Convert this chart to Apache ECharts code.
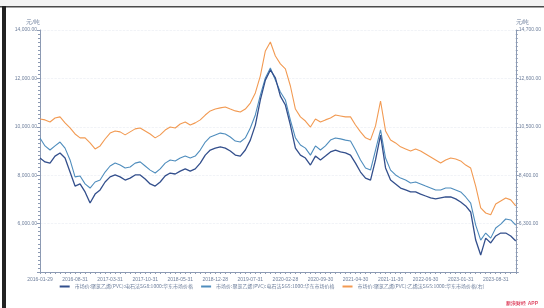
<!DOCTYPE html>
<html lang="zh">
<head>
  <meta charset="UTF-8">
  <title>PVC 价格走势</title>
  <script src="https://cdn.jsdelivr.net/npm/echarts@6/dist/echarts.min.js"></script>
  <style>
    html, body { margin: 0; padding: 0; background: #fff; }
  </style>
</head>
<body>
  <div id="main" style="width: 544px;height:308px;"></div>
</body>
</html>
<script>
  const dates = [
    "2016-01-29", "2016-02-26", "2016-03-31", "2016-04-29", "2016-05-31", "2016-06-30", "2016-07-29", "2016-08-31", "2016-09-30", "2016-10-31", "2016-11-30", "2016-12-30",
    "2017-01-26", "2017-02-28", "2017-03-31", "2017-04-28", "2017-05-31", "2017-06-30", "2017-07-31", "2017-08-31", "2017-09-29", "2017-10-31", "2017-11-30", "2017-12-29",
    "2018-01-31", "2018-02-28", "2018-03-30", "2018-04-27", "2018-05-31", "2018-06-29", "2018-07-31", "2018-08-31", "2018-09-28", "2018-10-31", "2018-11-30", "2018-12-28",
    "2019-01-31", "2019-02-28", "2019-03-29", "2019-04-30", "2019-05-31", "2019-06-28", "2019-07-31", "2019-08-30", "2019-09-30", "2019-10-31", "2019-11-29", "2019-12-31",
    "2020-01-23", "2020-02-28", "2020-03-31", "2020-04-30", "2020-05-29", "2020-06-30", "2020-07-31", "2020-08-31", "2020-09-30", "2020-10-30", "2020-11-30", "2020-12-31",
    "2021-01-29", "2021-02-26", "2021-03-31", "2021-04-30", "2021-05-31", "2021-06-30", "2021-07-30", "2021-08-31", "2021-09-30", "2021-10-29", "2021-11-30", "2021-12-31",
    "2022-01-28", "2022-02-28", "2022-03-31", "2022-04-29", "2022-05-31", "2022-06-30", "2022-07-29", "2022-08-31", "2022-09-30", "2022-10-31", "2022-11-30", "2022-12-30",
    "2023-01-31", "2023-02-28", "2023-03-31", "2023-04-28", "2023-05-31", "2023-06-30", "2023-07-31", "2023-08-31", "2023-09-28", "2023-10-31", "2023-11-30", "2023-12-29"
  ];

  const seriesNames = [
    "市场价:聚氯乙烯(PVC):电石法SG8:1000:华东市场价格",
    "市场价:聚氯乙烯(PVC):电石法SG5:1000:华东市场价格",
    "市场价:聚氯乙烯(PVC):乙烯法SG5:1000:华东市场价格(右)"
  ];

  // 电石法 SG8（左轴）
  const sg8 = [8710, 8550, 8500, 8790, 8920, 8710, 8130, 7550, 7640, 7310,
    6850, 7220, 7390, 7720, 7930, 8010, 7930, 7800, 7880, 8010,
    8010, 7840, 7640, 7550, 7720, 7970, 8090, 8050, 8170, 8260,
    8170, 8260, 8500, 8830, 9040, 9120, 9170, 9120, 9000, 8830,
    8790, 9040, 9450, 10070, 11110, 11930, 12350, 12020, 11270, 10900,
    10070, 9120, 8830, 8710, 8420, 8790, 8630, 8790, 8960, 9040,
    8960, 8920, 8830, 8500, 8130, 7880, 7800, 8630, 9660, 8300,
    7800, 7640, 7470, 7390, 7310, 7310, 7220, 7140, 7060, 7020,
    7060, 7100, 7100, 7020, 6890, 6730, 6480, 5320, 4700, 5400,
    5200, 5490, 5610, 5610, 5490, 5280];

  // 电石法 SG5（左轴）
  const sg5 = [9540, 9210, 9040, 9210, 9370, 9120, 8630, 7930, 7970, 7640,
    7470, 7720, 7800, 8130, 8380, 8500, 8420, 8300, 8340, 8500,
    8550, 8380, 8210, 8090, 8260, 8500, 8630, 8590, 8710, 8790,
    8710, 8790, 9040, 9370, 9580, 9660, 9740, 9700, 9580, 9410,
    9370, 9540, 9950, 10490, 11310, 12020, 12430, 11930, 11440, 11110,
    10280, 9540, 9250, 9120, 8830, 9210, 9040, 9210, 9450, 9540,
    9500, 9450, 9410, 9040, 8630, 8300, 8210, 9040, 9870, 8710,
    8210, 8010, 7880, 7800, 7680, 7720, 7640, 7550, 7470, 7390,
    7390, 7470, 7470, 7390, 7310, 7100, 6850, 5940, 5320, 5610,
    5400, 5820, 5980, 6190, 6150, 5940];

  // 乙烯法 SG5（右轴）
  const ethylene = [10840, 10800, 10710, 10880, 10930, 10670, 10450, 10190, 10020, 10020,
    9800, 9540, 9670, 9970, 10230, 10320, 10280, 10150, 10280, 10410,
    10450, 10320, 10190, 10020, 10150, 10360, 10490, 10450, 10620, 10710,
    10580, 10670, 10800, 11010, 11190, 11270, 11320, 11360, 11270, 11190,
    11140, 11270, 11530, 11970, 12710, 13790, 14180, 13570, 13230, 13010,
    12270, 11270, 10930, 10750, 10490, 10840, 10710, 10800, 10880, 11010,
    10970, 10930, 10930, 10580, 10280, 10020, 9930, 10540, 11620, 10320,
    9930, 9800, 9630, 9540, 9450, 9540, 9450, 9320, 9190, 9060,
    8930, 9060, 9150, 9100, 9020, 8840, 8710, 7930, 6980, 6760,
    6680, 7150, 7280, 7410, 7330, 7070];

  const colors = ["#334f8c", "#4f8dbd", "#f29a52"];
  const labelColor = "#6e7f9c";
  const axisColor = "#8c9ab3";

  function fmt(val) {
    let parts = Number(val).toFixed(2).split(".");
    parts[0] = parts[0].replace(/\B(?=(\d{3})+(?!\d))/g, ",");
    return parts.join(".");
  }

  function yAxisCfg(pos, min, max, interval) {
    return {
      type: "value",
      position: pos,
      name: "元/吨",
      nameGap: 5,
      nameTextStyle: { color: labelColor, fontSize: 6, align: pos === "left" ? "right" : "left" },
      min: min,
      max: max,
      interval: interval,
      axisLine: { show: true, lineStyle: { color: axisColor, width: 1 } },
      axisTick: { show: true, length: 3, lineStyle: { color: axisColor } },
      minorTick: { show: true, splitNumber: 12, length: 2, lineStyle: { color: axisColor } },
      axisLabel: {
        color: labelColor,
        fontSize: 5,
        margin: 3,
        showMinLabel: false,
        formatter: fmt
      },
      splitLine: {
        show: pos === "left",
        lineStyle: { color: "#e8ebf1", type: "dashed", width: 0.6 }
      }
    };
  }

  let myChart = echarts.init(document.getElementById('main'));
  let option = {
    animation: false,
    color: colors,
    grid: { left: 40, right: 27, top: 30, bottom: 36 },
    legend: {
      bottom: 14,
      left: "center",
      itemWidth: 10,
      itemHeight: 2,
      itemGap: 8,
      icon: "rect",
      textStyle: { color: labelColor, fontSize: 5, fontFamily: "Noto Sans CJK SC" },
      data: seriesNames
    },
    xAxis: {
      type: "category",
      boundaryGap: false,
      data: dates,
      axisLine: { show: true, lineStyle: { color: axisColor, width: 1 } },
      axisTick: { show: true, interval: 0, length: 2, lineStyle: { color: axisColor } },
      axisLabel: { color: labelColor, fontSize: 5, margin: 5, interval: 6 },
      splitLine: { show: false }
    },
    yAxis: [
      yAxisCfg("left", 4000, 14000, 2000),
      yAxisCfg("right", 4200, 14700, 2100)
    ],
    series: [
      {
        name: seriesNames[0], type: "line", yAxisIndex: 0, data: sg8,
        showSymbol: false, lineStyle: { width: 1.3 }, z: 3
      },
      {
        name: seriesNames[1], type: "line", yAxisIndex: 0, data: sg5,
        showSymbol: false, lineStyle: { width: 1.1 }, z: 2
      },
      {
        name: seriesNames[2], type: "line", yAxisIndex: 1, data: ethylene,
        showSymbol: false, lineStyle: { width: 1.1 }, z: 1
      }
    ],
    graphic: [
      // 扫描件的边框
      { type: "rect", shape: { x: 0, y: 0, width: 544, height: 6 }, style: { fill: "#f3f3f3" }, silent: true },
      { type: "rect", shape: { x: 0, y: 6, width: 544, height: 1.5 }, style: { fill: "#4a4a4a" }, silent: true },
      { type: "rect", shape: { x: 2, y: 6, width: 4, height: 302 }, style: { fill: "#222" }, silent: true },
      {
        type: "text", right: 6, bottom: 2,
        style: { text: "新浪财经 APP", fill: "#e0506a", fontSize: 5, fontWeight: "bold" }
      }
    ]
  };
  myChart.setOption(option, true);
</script>
